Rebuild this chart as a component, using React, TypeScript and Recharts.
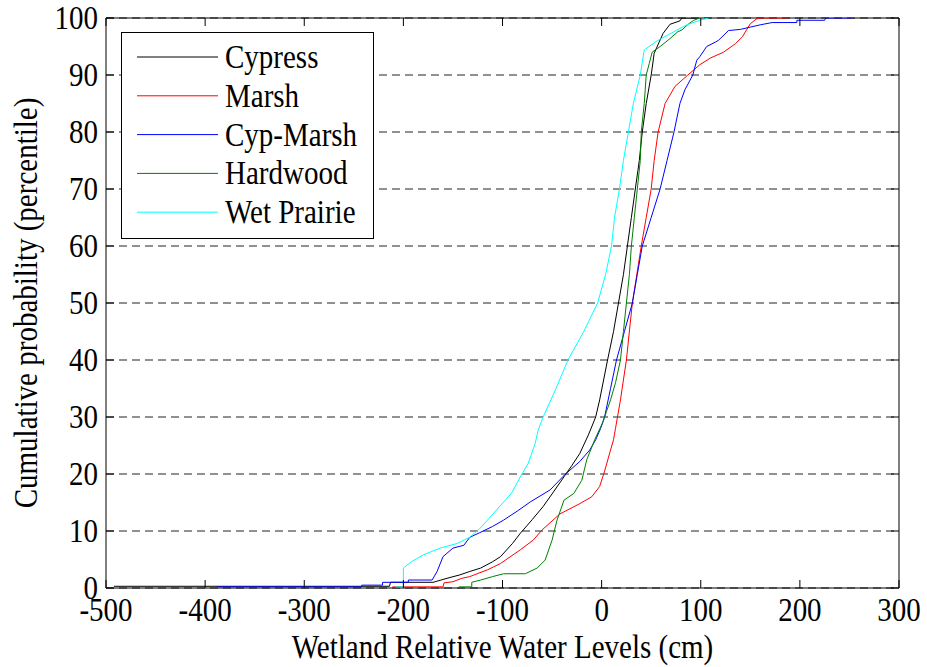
import React from "react";
import { LineChart, Line, XAxis, YAxis, CartesianGrid, Legend, ReferenceArea } from "recharts";

// cumulative distribution of wetland relative water levels
const xTicks = [-500, -400, -300, -200, -100, 0, 100, 200, 300];
const yTicks = [0, 10, 20, 30, 40, 50, 60, 70, 80, 90, 100];

const cypress: [number, number][] = [
  [-492, 0.3], [-214, 0.3], [-213, 1.0], [-170, 1.0], [-156, 1.7], [-143, 2.3], [-133, 2.9],
  [-122, 3.5], [-110, 4.6], [-102, 5.5], [-90, 7.8], [-82, 9.6], [-70, 12], [-59, 14.3],
  [-48, 17], [-38, 19.5], [-30, 21.5], [-22, 23.6], [-13, 27], [-6, 30], [-2, 33], [6, 40],
  [12, 45], [17, 50], [22, 55], [26, 60], [30, 65], [34, 70], [38, 75], [41, 80], [45, 85],
  [50, 90], [53, 93.8], [62, 97.3], [69, 98.9], [79, 99.5], [81, 100], [96, 100],
];

const marsh: [number, number][] = [
  [-211, 0.2], [-160, 0.2], [-159, 0.9], [-150, 1.1], [-141, 1.7], [-133, 2.0], [-115, 3.2],
  [-102, 4.3], [-82, 6.7], [-69, 8.4], [-60, 10.2], [-42, 13], [-22, 14.8], [-10, 16],
  [-2, 17.8], [3, 20.5], [9, 24.2], [12, 26], [14, 28], [16, 30], [19, 33], [25, 40],
  [31, 50], [40, 60], [45, 65], [50, 70], [53, 75], [57, 80], [64, 85], [74, 88], [87, 90],
  [99, 91.8], [110, 93], [123, 94], [135, 95.5], [142, 96.7], [150, 99], [156, 99.8],
  [160, 100], [188, 100],
];

const cypMarsh: [number, number][] = [
  [-388, 0.2], [-242, 0.2], [-242, 0.5], [-221, 0.5], [-221, 1.0], [-195, 1.0], [-195, 1.4],
  [-171, 1.4], [-166, 2.9], [-160, 5.5], [-150, 7], [-139, 7.5], [-133, 8.9], [-123, 9.7],
  [-110, 10.8], [-99, 11.9], [-85, 13.5], [-72, 15.1], [-52, 17.2], [-37, 19.9], [-22, 22.2],
  [-12, 24.2], [-6, 26], [-1, 28], [3, 30], [9, 35], [15, 40], [23, 45], [31, 50], [36, 55],
  [41, 60], [50, 65], [59, 70], [66, 75], [73, 80], [79, 85], [84, 87.4], [92, 90],
  [96, 92.6], [99, 93.2], [106, 95], [115, 95.8], [118, 96.1], [128, 97.8], [140, 98],
  [150, 98.4], [160, 98.8], [172, 99.2], [197, 99.2], [197, 99.6], [225, 99.6], [226, 100],
  [252, 100],
];

const hardwood: [number, number][] = [
  [-144, 0.2], [-131, 0.2], [-131, 1.0], [-122, 1.4], [-110, 2], [-99, 2.5], [-77, 2.5],
  [-65, 3.5], [-57, 4.9], [-50, 8.4], [-45, 11.9], [-38, 15.4], [-28, 16.6], [-20, 18.9],
  [-15, 22.5], [-7, 26], [1, 29], [5, 31], [9, 33], [14, 36], [19, 40], [22, 45], [25, 50],
  [28, 55], [30, 60], [33, 65], [36, 70], [39, 75], [40, 80], [43, 85], [45, 90], [48, 92],
  [51, 94], [59, 95], [67, 96.1], [77, 97.6], [81, 97.9], [88, 99], [93, 99.6], [99, 100],
];

const wetPrairie: [number, number][] = [
  [-208, 0.2], [-200, 0.2], [-200, 3.5], [-192, 4.6], [-180, 5.8], [-163, 7], [-146, 7.8],
  [-133, 8.9], [-123, 10.4], [-106, 13.7], [-91, 16.6], [-82, 19.5], [-74, 21.9], [-67, 25.4],
  [-64, 27.7], [-59, 30], [-46, 35], [-34, 40], [-18, 45], [-4, 50], [4, 55], [10, 60],
  [13, 65], [18, 70], [22, 75], [27, 80], [32, 85], [39, 90], [43, 94.4], [56, 96],
  [70, 97.3], [76, 97.9], [86, 98.8], [99, 99.6], [108, 100],
];

const series = [
  { name: "Cypress", color: "#000000", points: cypress },
  { name: "Marsh", color: "#ff0000", points: marsh },
  { name: "Cyp-Marsh", color: "#0000ff", points: cypMarsh },
  { name: "Hardwood", color: "#008000", points: hardwood },
  { name: "Wet Prairie", color: "#00ffff", points: wetPrairie },
];

const W = 927;
const H = 667;
const LEFT = 106;
const RIGHT = 899;
const TOP = 18;
const BOTTOM = 588;
const STRETCH = 1.13;
const textStyle: React.CSSProperties = {
  fontFamily: '"Liberation Serif", "Times New Roman", Times, serif',
  fontSize: 29,
  fill: "#000",
};

function XTick(props: any) {
  const { x, payload } = props;
  return (
    <g>
      <line x1={x} x2={x} y1={BOTTOM} y2={BOTTOM - 8} stroke="#000" />
      <line x1={x} x2={x} y1={TOP} y2={TOP + 8} stroke="#000" />
      <text
        transform={`translate(${x},${BOTTOM + 33}) scale(1,${STRETCH})`}
        textAnchor="middle"
        style={textStyle}
      >
        {payload.value}
      </text>
    </g>
  );
}

function YTick(props: any) {
  const { y, payload } = props;
  return (
    <g>
      <line x1={LEFT} x2={LEFT + 8} y1={y} y2={y} stroke="#000" />
      <line x1={RIGHT - 8} x2={RIGHT} y1={y} y2={y} stroke="#000" />
      <text
        transform={`translate(${LEFT - 8},${y + 11}) scale(1,${STRETCH})`}
        textAnchor="end"
        style={textStyle}
      >
        {payload.value}
      </text>
    </g>
  );
}

// legend keeps the plotting order of the series
function LegendBox() {
  return (
    <svg width={253} height={207}>
      <rect x={0.5} y={0.5} width={252} height={206} fill="#fff" stroke="#000" />
      {series.map((s, i) => {
        const cy = 25 + i * 38.8;
        return (
          <g key={s.name}>
            <line x1={16} x2={97} y1={cy} y2={cy} stroke={s.color} />
            <text transform={`translate(104,${cy + 11}) scale(1,${STRETCH})`} style={textStyle}>
              {s.name}
            </text>
          </g>
        );
      })}
    </svg>
  );
}

export default function App() {
  return (
    <div style={{ position: "absolute", left: 0, top: 0, background: "#fff" }}>
      <LineChart width={W} height={H} margin={{ top: TOP, right: W - RIGHT, bottom: 0, left: 0 }}>
        <CartesianGrid vertical={false} stroke="#222" strokeDasharray="8 5" />
        <XAxis
          dataKey="x"
          type="number"
          domain={[-500, 300]}
          ticks={xTicks}
          height={H - BOTTOM}
          axisLine={false}
          tickLine={false}
          tickSize={0}
          tick={<XTick />}
          allowDataOverflow
          label={() => (
            <text
              transform={`translate(${(LEFT + RIGHT) / 2},658) scale(1,${STRETCH})`}
              textAnchor="middle"
              style={textStyle}
            >
              Wetland Relative Water Levels (cm)
            </text>
          )}
        />
        <YAxis
          type="number"
          domain={[0, 100]}
          ticks={yTicks}
          width={LEFT}
          axisLine={false}
          tickLine={false}
          tickSize={0}
          tick={<YTick />}
          allowDataOverflow
          label={() => (
            <text
              transform={`translate(37,${(TOP + BOTTOM) / 2}) rotate(-90) scale(1,${STRETCH})`}
              textAnchor="middle"
              style={textStyle}
            >
              Cumulative probability (percentile)
            </text>
          )}
        />
        <ReferenceArea x1={-500} x2={300} y1={0} y2={100} fill="none" stroke="#000" strokeWidth={1} />
        {series.map((s) => (
          <Line
            key={s.name}
            name={s.name}
            data={s.points.map(([x, p]) => ({ x, p }))}
            dataKey="p"
            type="linear"
            stroke={s.color}
            strokeWidth={1}
            dot={false}
            activeDot={false}
            isAnimationActive={false}
          />
        ))}
        <Legend
          layout="vertical"
          align="center"
          verticalAlign="middle"
          content={<LegendBox />}
          wrapperStyle={{ left: 121, top: 32, width: 253, height: 207 }}
        />
      </LineChart>
    </div>
  );
}
